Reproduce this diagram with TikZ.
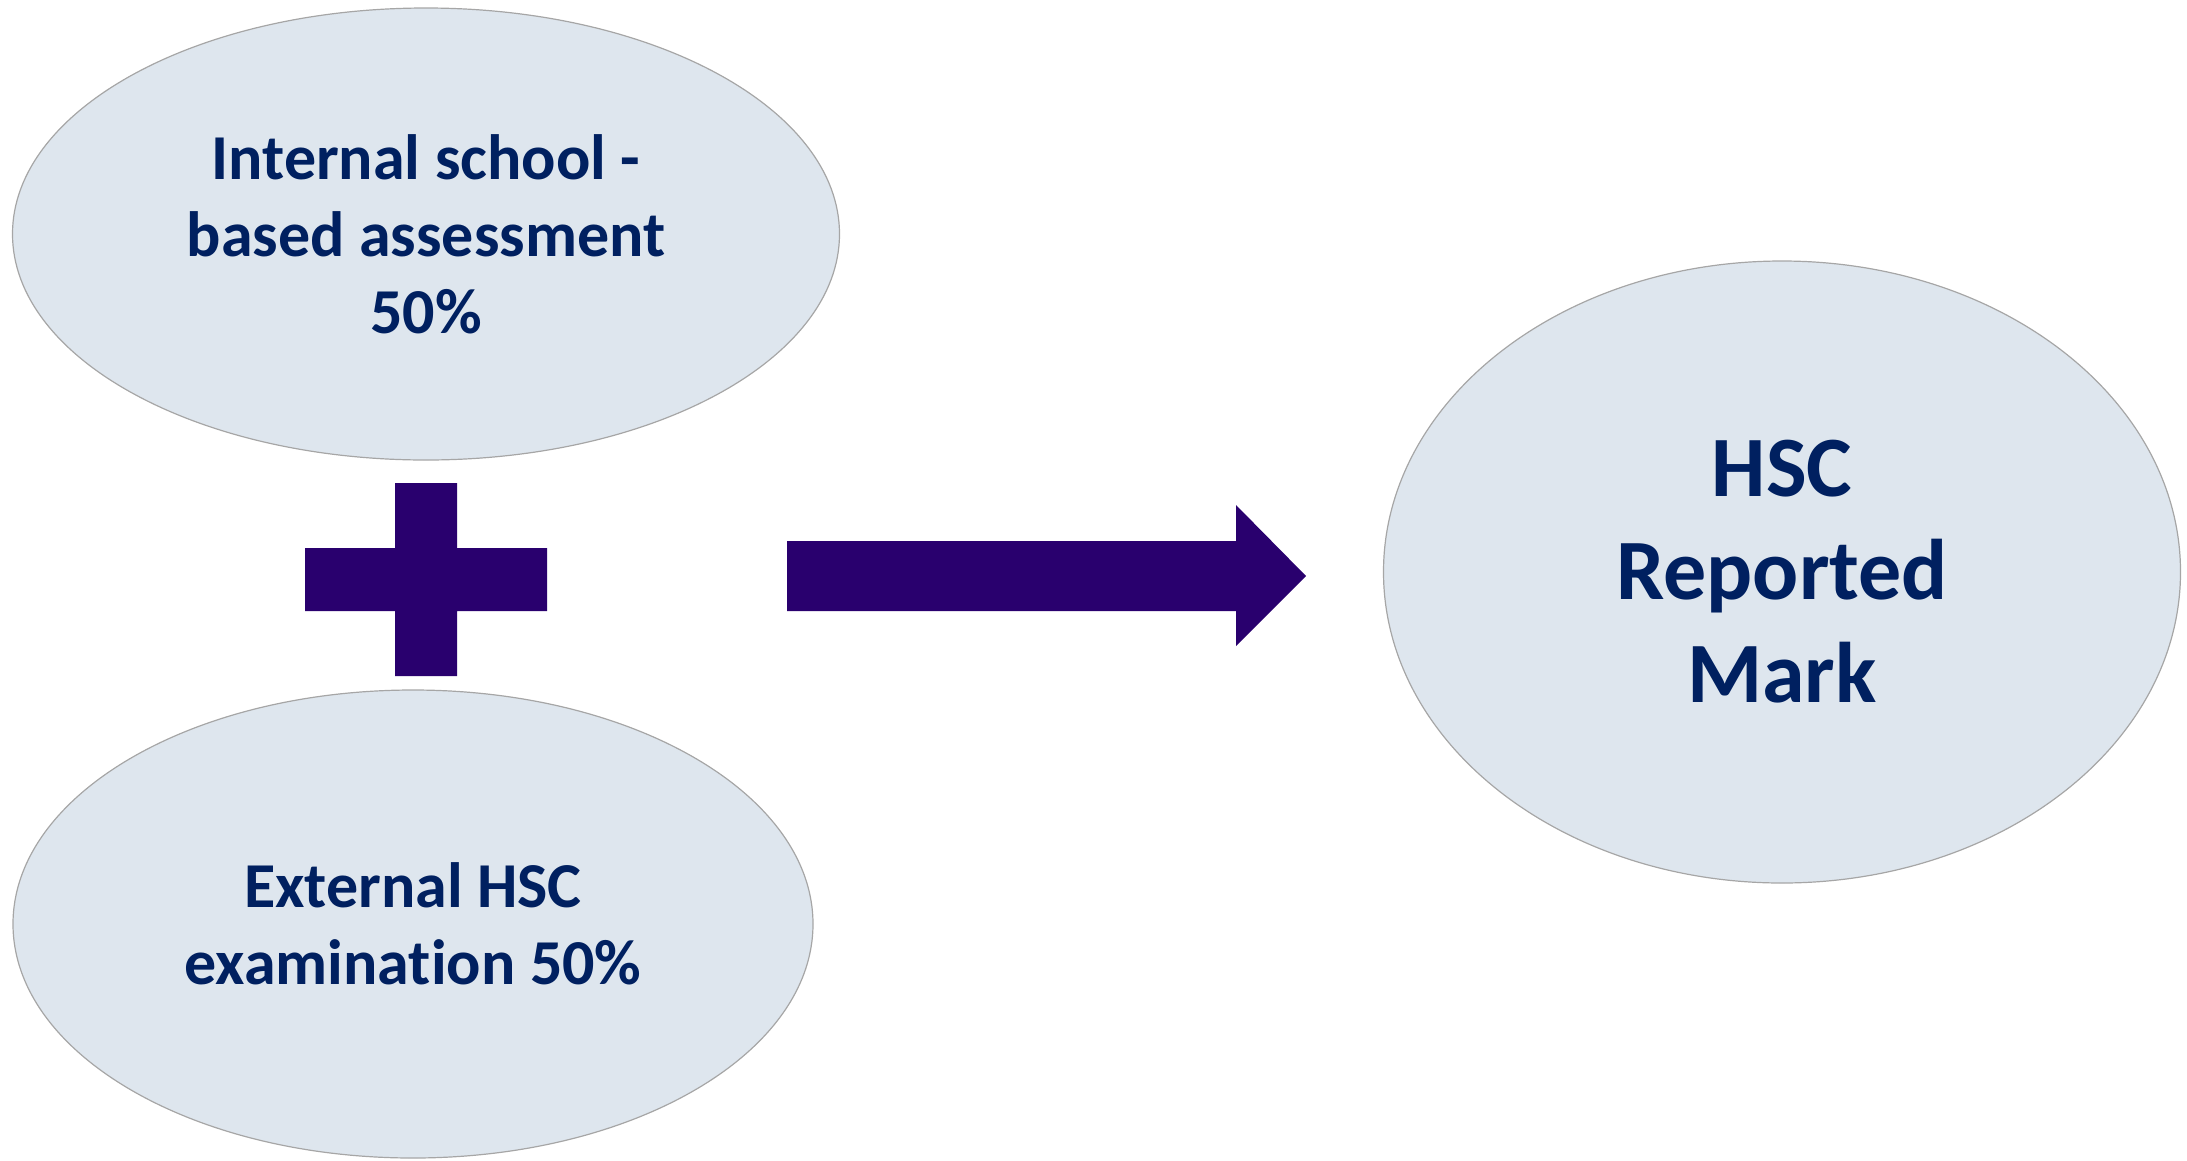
\documentclass[tikz,border=0pt]{standalone}
\usepackage{fontspec}
\setmainfont[Ligatures={NoCommon}]{Carlito}
\usetikzlibrary{shapes.geometric}
\definecolor{ellfill}{HTML}{DEE6EE}
\definecolor{ellline}{HTML}{A6A6A6}
\definecolor{txtblue}{HTML}{002060}
\definecolor{shapepurple}{HTML}{29006E}
\tikzset{
  bubble/.style={ellipse, draw=ellline, line width=1.2pt, fill=ellfill, inner sep=0pt,
    align=center, text=txtblue},
  smalltext/.style={font=\fontsize{64}{77}\selectfont\bfseries},
  bigtext/.style={font=\fontsize{86}{103}\selectfont\bfseries},
  solidshape/.style={fill=shapepurple, draw=none}
}
\begin{document}
\begin{tikzpicture}[x=1pt,y=-1pt]
\useasboundingbox (0,0) rectangle (2187,1160);
\node[bubble, smalltext, minimum width=827pt, minimum height=452pt] (internal) at (426,234)
  {Internal school -\\based assessment\\50\%};
\node[bubble, smalltext, minimum width=800pt, minimum height=468pt] (external) at (413,924)
  {External HSC\\examination 50\%};
\node[bubble, bigtext, minimum width=797pt, minimum height=622pt] (hsc) at (1782,572)
  {HSC\\Reported\\Mark};
% plus sign
\fill[solidshape] (395,483) -- (457,483) -- (457,548) -- (547,548) -- (547,611) -- (457,611)
  -- (457,676) -- (395,676) -- (395,611) -- (305,611) -- (305,548) -- (395,548) -- cycle;
% block arrow
\coordinate (tip) at (1306,576);
\fill[solidshape] (787,541) -- (1236,541) -- (1236,505) -- (tip) -- (1236,646)
  -- (1236,611) -- (787,611) -- cycle;
\end{tikzpicture}
\end{document}
